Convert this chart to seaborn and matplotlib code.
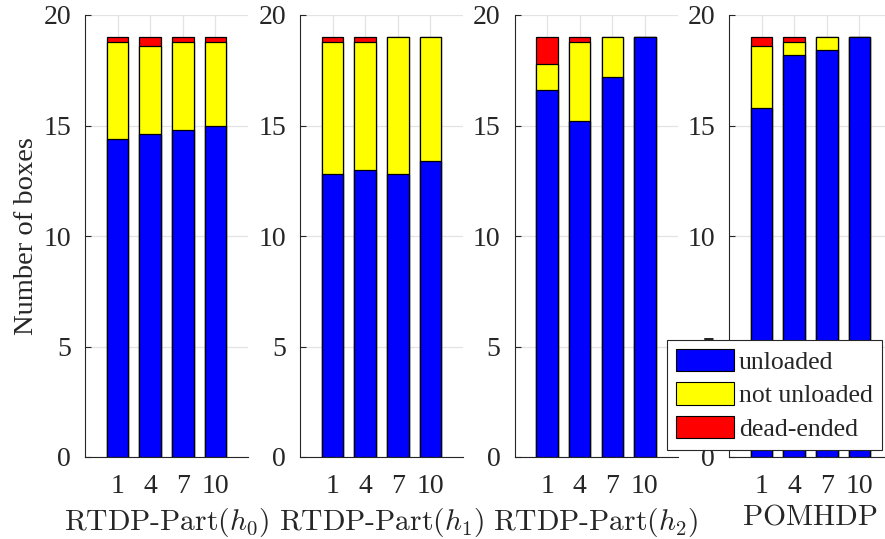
import matplotlib
matplotlib.use("Agg")
import matplotlib.pyplot as plt
from matplotlib import font_manager
from matplotlib.patches import Patch
import numpy as np
import pandas as pd
import seaborn as sns

# Planning-horizon settings shown on each x axis
horizons = ["1", "4", "7", "10"]

# Box outcomes per method (stacked: unloaded, not unloaded, dead-ended)
unloaded_h0 = [14.4, 14.6, 14.8, 15.0]
not_unloaded_h0 = [4.4, 4.0, 4.0, 3.8]
dead_ended_h0 = [0.2, 0.4, 0.2, 0.2]

unloaded_h1 = [12.8, 13.0, 12.8, 13.4]
not_unloaded_h1 = [6.0, 5.8, 6.2, 5.6]
dead_ended_h1 = [0.2, 0.2, 0.0, 0.0]

unloaded_h2 = [16.6, 15.2, 17.2, 19.0]
not_unloaded_h2 = [1.2, 3.6, 1.8, 0.0]
dead_ended_h2 = [1.2, 0.2, 0.0, 0.0]

unloaded_pomhdp = [15.8, 18.2, 18.4, 19.0]
not_unloaded_pomhdp = [2.8, 0.6, 0.6, 0.0]
dead_ended_pomhdp = [0.4, 0.2, 0.0, 0.0]

method_labels = ["RTDP-Part$(h_0)$", "RTDP-Part$(h_1)$", "RTDP-Part$(h_2)$", "POMHDP"]
series = [
    (unloaded_h0, not_unloaded_h0, dead_ended_h0),
    (unloaded_h1, not_unloaded_h1, dead_ended_h1),
    (unloaded_h2, not_unloaded_h2, dead_ended_h2),
    (unloaded_pomhdp, not_unloaded_pomhdp, dead_ended_pomhdp),
]
y_ticks = [0, 5, 10, 15, 20]

# Pick a Times-like serif face for ticks, y label and legend
times_like = None
for f in font_manager.fontManager.ttflist:
    if "LiberationSerif-Regular" in f.fname:
        times_like = f.name
        break
if times_like is None:
    times_like = "STIXGeneral"

sns.set_theme(style="white")
plt.rcParams["font.family"] = [times_like, "STIXGeneral", "DejaVu Serif"]
plt.rcParams["mathtext.fontset"] = "cm"
plt.rcParams["axes.unicode_minus"] = False

W, H = 885, 539
fig = plt.figure(figsize=(W / 100, H / 100), dpi=100)

blue, yellow, red = "#0000ff", "#ffff00", "#ff0000"
axis_col = "#262626"
lefts = [85, 300, 514.5, 729]
ax_w, top_px, bot_px = 163, 15, 457

for i, (left, label, (unl, notunl, dead)) in enumerate(zip(lefts, method_labels, series)):
    ax = fig.add_axes([left / W, 1 - bot_px / H, ax_w / W, (bot_px - top_px) / H])
    df = pd.DataFrame({
        "horizon": horizons,
        "unloaded": unl,
        "not_unloaded": notunl,
        "dead": dead,
    })
    df["lvl2"] = df["unloaded"] + df["not_unloaded"]
    df["lvl3"] = df["lvl2"] + df["dead"]
    common = dict(x="horizon", order=horizons, width=0.66, ax=ax,
                  edgecolor="black", linewidth=0.9, saturation=1, errorbar=None)
    sns.barplot(data=df, y="lvl3", color=red, **common)
    sns.barplot(data=df, y="lvl2", color=yellow, **common)
    sns.barplot(data=df, y="unloaded", color=blue, **common)

    ax.set_xlim(-1, 4)
    ax.set_ylim(0, 20)
    ax.set_yticks(y_ticks)
    ax.set_yticklabels([str(t) for t in y_ticks])
    ax.set_axisbelow(True)
    ax.grid(True, color="#e3e3e3", linewidth=0.9)
    for s in ["top", "right"]:
        ax.spines[s].set_visible(False)
    for s in ["left", "bottom"]:
        ax.spines[s].set_color(axis_col)
        ax.spines[s].set_linewidth(0.8)
    ax.tick_params(axis="both", direction="in", length=4, width=0.8,
                   colors=axis_col, labelcolor="#262626", labelsize=20,
                   left=True, bottom=True)
    ax.tick_params(axis="x", pad=12)
    ax.tick_params(axis="y", pad=10)
    ax.set_xlabel(label, fontsize=21.3, family="cmr10", color="#262626", labelpad=5)
    ax.set_ylabel("Number of boxes" if i == 0 else "", fontsize=20.5, color="#262626")
    if i == 0:
        ax.yaxis.set_label_coords(-0.28, 0.5)

handles = [
    Patch(facecolor=blue, edgecolor="black", linewidth=0.8, label="unloaded"),
    Patch(facecolor=yellow, edgecolor="black", linewidth=0.8, label="not unloaded"),
    Patch(facecolor=red, edgecolor="black", linewidth=0.8, label="dead-ended"),
]
leg = fig.legend(handles=handles, loc="upper left",
                 bbox_to_anchor=(667 / W, 1 - 340 / H), borderaxespad=0,
                 fontsize=18.5, frameon=True, fancybox=False, framealpha=1,
                 handlelength=2.25, handleheight=0.95, handletextpad=0.2,
                 labelspacing=0.33, borderpad=0.35)
leg.get_frame().set_edgecolor("#262626")
leg.get_frame().set_linewidth(0.8)

fig.savefig("out.png", dpi=100)
